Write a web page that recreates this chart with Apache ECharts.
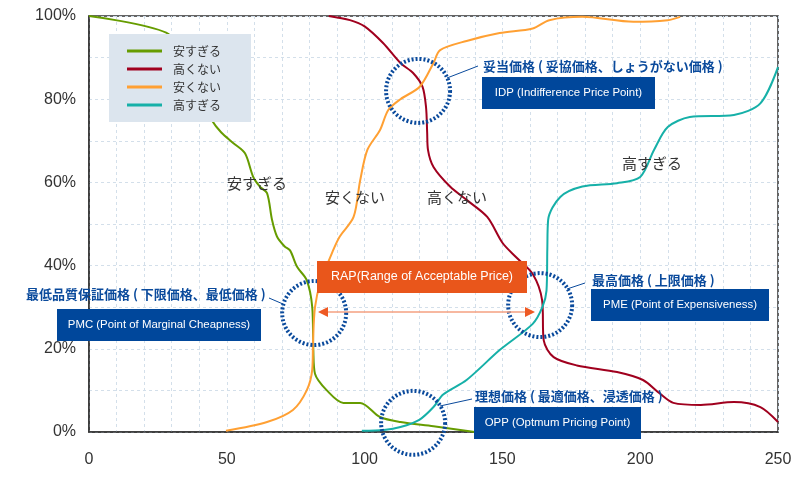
<!DOCTYPE html>
<html><head><meta charset="utf-8">
<script src="https://cdn.jsdelivr.net/npm/echarts@6/dist/echarts.min.js"></script>
<style>html,body{margin:0;padding:0;background:#fff}#c{width:800px;height:491px}</style>
</head><body><div id="c"></div>
<script>
// ---- data ----
var seriesNames = ['安すぎる', '高くない', '安くない', '高すぎる'];
var tooCheap = [[0,100],[28,96],[35,89.5],[41,80],[44.5,75],[48,72],[52.3,69.5],[56.6,67],[59.6,61.3],[62,59],[64.6,57.4],[66.4,51],[68.2,47],[71,44.6],[73,43.6],[75.5,39.7],[79,36.5],[81,30],[81.4,19.7],[82,14],[86.3,10],[92.3,7],[98.4,7],[105.6,3.6],[113,2.4],[125,1.4],[140,0]];
var notExpensive = [[87,100],[94.7,99],[100,97.5],[106.7,93.5],[113,88.7],[117.6,86.3],[121,83],[122.3,78],[122.7,72],[123,67.8],[125,63.7],[131,59],[137,55.8],[144.5,51.7],[150,45.5],[155,42],[161,38],[164.4,31.7],[165,22],[168.6,18],[177,16],[191.6,14.4],[201,12.5],[207,9.3],[212,7],[222,6.5],[234,7.2],[243.6,6],[250,2.4]];
var notCheap = [[49.7,0.3],[64.6,2.4],[74,5.3],[79,10],[81,15],[81.3,22],[82,30],[84,36],[88.8,44],[91,47],[96,51.7],[98.4,60.5],[101,67.8],[105.6,72.6],[108.6,77.4],[113,80],[120,83],[125,88.7],[127.4,91.8],[137,94],[149,95.9],[161,97],[167,99],[179,99.8],[197.5,98.6],[210,99],[214.5,99.8]];
var tooExpensive = [[99,0.3],[107,0.5],[113,1.2],[120,3],[125,6],[128.5,9],[137,12.5],[149,19.7],[161,26],[164.5,30],[166,34],[166.3,44],[166.6,51],[171,56.5],[179,59],[191.6,59.8],[200,61.3],[205,67.8],[210,73.3],[218,75.7],[234,76.2],[243.6,79],[250,87.7]];
var keyPointNames = ['PMC','IDP','PME','OPP'];
var keyPointX = [81.7, 119.4, 163.7, 117.6];
var keyPointY = [28.6, 82, 30.5, 2.2];
var xTickLabels = [0, 50, 100, 150, 200, 250];
var yTickLabels = [0, 20, 40, 60, 80, 100];

var colors = ['#669c00', '#a0001e', '#ffa033', '#16b0a8'];
var blue = '#0a4a9c';
var jp = '"Noto Sans CJK JP", "Liberation Sans", sans-serif';
var lat = '"Liberation Sans", Arial, sans-serif';

var chart = echarts.init(document.getElementById('c'), null, {renderer: 'canvas'});
var lineData = [tooCheap, notExpensive, notCheap, tooExpensive];
var series = lineData.map(function (d, i) {
  return {
    name: seriesNames[i], type: 'line', data: d, symbol: 'none', smooth: 0.3,
    lineStyle: {color: colors[i], width: 2}, itemStyle: {color: colors[i]}, z: 2
  };
});
series.push({
  name: 'keypoints', type: 'scatter', z: 3,
  data: keyPointNames.map(function (n, i) { return {name: n, value: [keyPointX[i], keyPointY[i]]}; }),
  symbol: 'circle', symbolSize: 64,
  itemStyle: {color: 'rgba(0,0,0,0)', borderColor: blue, borderWidth: 4, borderType: [2, 2], opacity: 1},
  emphasis: {disabled: true}, silent: true
});

function blueLabel(x, y, t) {
  return {type: 'text', x: x, y: y, z: 20, style: {text: t, fill: blue, font: 'bold 13px ' + jp, textAlign: 'left', textVerticalAlign: 'middle'}};
}
function box(x, y, w, h, t, fill, fs) {
  return [{type: 'rect', z: 20, shape: {x: x, y: y, width: w, height: h}, style: {fill: fill}},
    {type: 'text', z: 21, x: x + w / 2, y: y + h / 2, style: {text: t, fill: '#fff', font: fs + 'px ' + lat, textAlign: 'center', textVerticalAlign: 'middle'}}];
}
function leader(x1, y1, x2, y2) {
  return {type: 'line', z: 20, shape: {x1: x1, y1: y1, x2: x2, y2: y2}, style: {stroke: blue, lineWidth: 1}};
}
function seriesText(x, y, t) {
  return {type: 'text', z: 20, x: x, y: y, style: {text: t, fill: '#333', font: '15px ' + jp, textAlign: 'left', textVerticalAlign: 'middle'}};
}
var graphics = [];
graphics = graphics.concat(
  seriesText(227, 183, '安すぎる'), seriesText(325, 197, '安くない'),
  seriesText(427, 197, '高くない'), seriesText(622, 163, '高すぎる'),
  blueLabel(483, 66, '妥当価格 ( 妥協価格、しょうがない価格 )'),
  box(482, 77, 173, 32, 'IDP (Indifference Price Point)', '#00479b', 11.4),
  leader(447, 78, 478, 66),
  blueLabel(26, 294, '最低品質保証価格 ( 下限価格、最低価格 )'),
  box(57, 309, 204, 32, 'PMC (Point of Marginal Cheapness)', '#00479b', 11.4),
  leader(269, 298, 283, 304),
  blueLabel(592, 280, '最高価格 ( 上限価格 )'),
  box(591, 289, 178, 32, 'PME (Point of Expensiveness)', '#00479b', 11.4),
  leader(567, 289, 585, 283),
  blueLabel(475, 396, '理想価格 ( 最適価格、浸透価格 )'),
  box(474, 407, 167, 32, 'OPP (Optmum Pricing Point)', '#00479b', 11.4),
  leader(440, 406, 472, 399),
  box(317, 261, 210, 32, 'RAP(Range of Acceptable Price)', '#e9561b', 12.5),
  {type: 'line', z: 19, shape: {x1: 325, y1: 312, x2: 528, y2: 312}, style: {stroke: '#f5a080', lineWidth: 1.5}},
  {type: 'polygon', z: 19, shape: {points: [[318, 312], [328, 307], [328, 317]]}, style: {fill: '#ee5a24'}},
  {type: 'polygon', z: 19, shape: {points: [[535, 312], [525, 307], [525, 317]]}, style: {fill: '#ee5a24'}}
);

chart.setOption({
  animation: false,
  backgroundColor: '#fff',
  grid: {left: 89, right: 22, top: 16, bottom: 59, show: true, borderColor: '#333', borderWidth: 1.5, backgroundColor: 'transparent'},
  legend: {
    data: seriesNames, orient: 'vertical', left: 109, top: 34, width: 126,
    backgroundColor: '#dce5ee', padding: [11, 30, 11, 18], itemGap: 6,
    icon: 'rect', itemWidth: 35, itemHeight: 3, z: 10,
    textStyle: {fontFamily: jp, fontSize: 12, color: '#333', padding: [0, 0, 0, 6]},
    selectedMode: false
  },
  xAxis: {
    type: 'value', min: 0, max: 250, interval: 10,
    axisLine: {show: true, lineStyle: {color: '#333', width: 1.5}}, axisTick: {show: false},
    axisLabel: {color: '#333', fontSize: 16, fontFamily: lat, margin: 20,
      formatter: function (v) { return xTickLabels.indexOf(v) >= 0 ? String(v) : ''; }},
    splitLine: {show: true, lineStyle: {color: '#d3dfea', type: [3, 3]}}
  },
  yAxis: {
    type: 'value', min: 0, max: 100, interval: 10,
    axisLine: {show: true, lineStyle: {color: '#333', width: 1.5}}, axisTick: {show: false},
    axisLabel: {color: '#333', fontSize: 16, fontFamily: lat, margin: 13,
      formatter: function (v) { return yTickLabels.indexOf(v) >= 0 ? v + '%' : ''; }},
    splitLine: {show: true, lineStyle: {color: '#d3dfea', type: [3, 3]}}
  },
  series: series,
  graphic: graphics
});
</script></body></html>
